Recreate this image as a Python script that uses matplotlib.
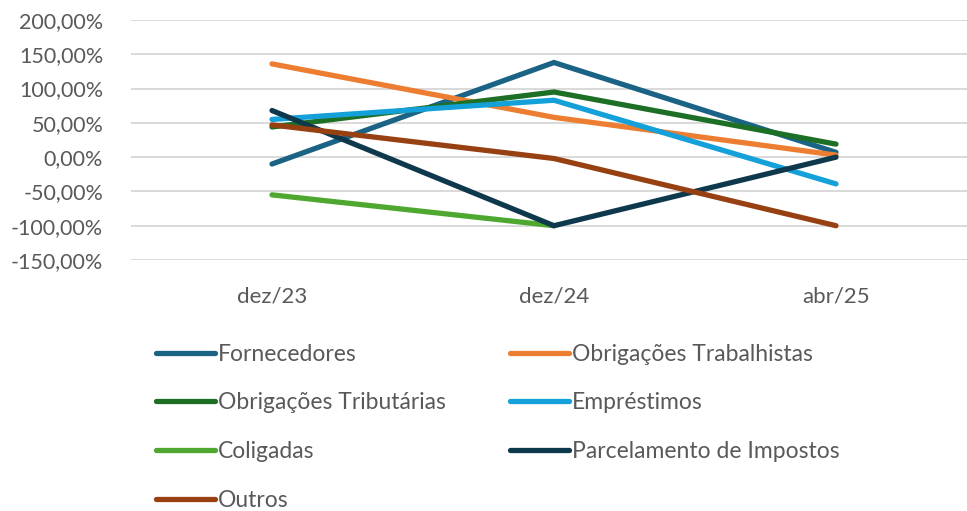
import matplotlib.pyplot as plt
import numpy as np
from matplotlib.ticker import FuncFormatter

plt.rcParams['font.family'] = ['Lato', 'DejaVu Sans']

periods = ["dez/23", "dez/24", "abr/25"]

fornecedores = [-10, 138, 7]
obrig_trabalhistas = [136, 58, 3]
obrig_tributarias = [44, 95, 19]
emprestimos = [55, 83, -39]
coligadas = [-55, -100, np.nan]
parcelamento = [68, -100, 0]
outros = [47, -2, -100]

names = ["Fornecedores", "Obrigações Trabalhistas", "Obrigações Tributárias",
         "Empréstimos", "Coligadas", "Parcelamento de Impostos", "Outros"]
colors = ["#1B6385", "#ED7D31", "#1D6F25", "#14A0D8", "#4EA72E", "#0E384C", "#974012"]
series = [fornecedores, obrig_trabalhistas, obrig_tributarias, emprestimos,
          coligadas, parcelamento, outros]

fig = plt.figure(figsize=(9.67, 5.11), dpi=100)
ax = fig.add_axes([131 / 967, 251 / 511, 846 / 967, 240 / 511])

x = np.arange(len(periods))
lines = {}
for name, vals, c in zip(names, series, colors):
    ln, = ax.plot(x, vals, color=c, lw=3.8, solid_capstyle='round',
                  solid_joinstyle='miter', label=name)
    lines[name] = ln

ax.set_xlim(-0.5, 2.5)
ax.set_ylim(-150, 200)
ax.set_yticks(np.arange(-150, 201, 50))
ax.yaxis.set_major_formatter(FuncFormatter(lambda v, p: f"{v:.2f}%".replace(".", ",")))
ax.set_xticks(x)
ax.set_xticklabels(periods)
ax.grid(axis='y', color='#D9D9D9', lw=1.4)
ax.set_axisbelow(True)
for s in ax.spines.values():
    s.set_visible(False)
ax.tick_params(length=0, colors='#595959')
ax.tick_params(axis='y', labelsize=15.5, pad=20)
ax.tick_params(axis='x', labelsize=16, pad=19)

order = ["Fornecedores", "Obrigações Tributárias", "Coligadas", "Outros",
         "Obrigações Trabalhistas", "Empréstimos", "Parcelamento de Impostos"]
fig.legend([lines[n] for n in order], order, loc='upper left',
           bbox_to_anchor=(135 / 967, 1 - 323 / 511), ncol=2, frameon=False,
           fontsize=16.5, labelcolor='#595959', handlelength=2.6,
           handletextpad=0.13, columnspacing=2.78, labelspacing=1.21)

fig.savefig("out.png", dpi=100)
